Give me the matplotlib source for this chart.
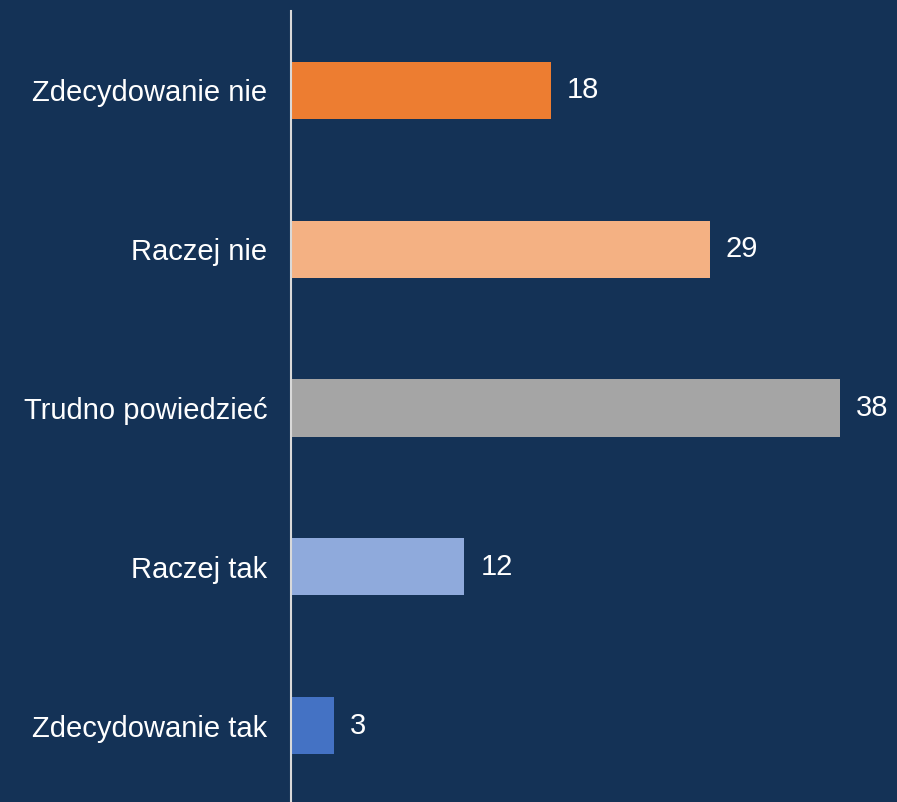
import matplotlib.pyplot as plt

categories = ["Zdecydowanie nie", "Raczej nie", "Trudno powiedzieć", "Raczej tak", "Zdecydowanie tak"]
values = [18, 29, 38, 12, 3]
colors = ["#ED7D31", "#F4B183", "#A5A5A5", "#8FAADC", "#4472C4"]

bg = "#143256"

plt.rcParams['font.family'] = ['Liberation Sans', 'DejaVu Sans']

fig = plt.figure(figsize=(8.97, 8.02), dpi=100, facecolor=bg)
ax = fig.add_axes([291 / 897, -3 / 802, 578 / 897, 794 / 802])
ax.set_facecolor(bg)

y = list(range(len(categories)))
ax.barh(y, values, height=0.36, color=colors)
ax.set_ylim(len(categories) - 0.5, -0.5)
ax.set_xlim(0, 40)

for yi, v in zip(y, values):
    ax.text(v + 1.1, yi, str(v), va='center', ha='left', color='white', fontsize=21)

ax.set_yticks(y)
ax.set_yticklabels(categories, color='white', fontsize=21)
ax.tick_params(axis='y', length=0, pad=17)
ax.set_xticks([])

for s in ['top', 'right', 'bottom']:
    ax.spines[s].set_visible(False)
ax.spines['left'].set_color('#D9D9D9')
ax.spines['left'].set_linewidth(1.5)

fig.savefig("out.png", dpi=100, facecolor=bg)
